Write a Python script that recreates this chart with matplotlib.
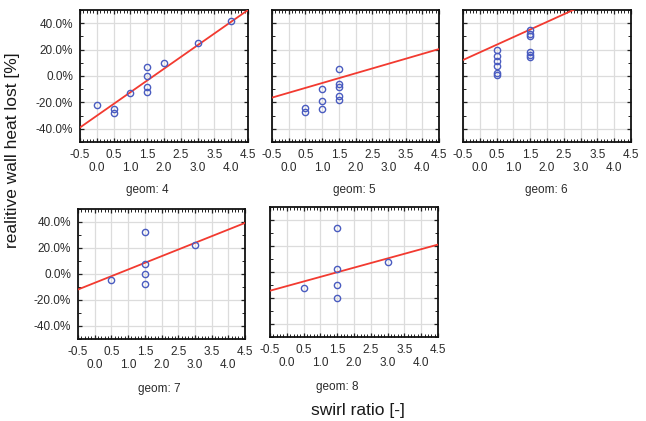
import numpy as np
import matplotlib
matplotlib.use("Agg")
import matplotlib.pyplot as plt
from matplotlib.ticker import MultipleLocator, FixedLocator, FuncFormatter

plt.rcParams["font.family"] = ["Liberation Sans", "DejaVu Sans"]

# data (swirl ratio vs relative wall heat lost, %)
geoms = [4, 5, 6, 7, 8]
x_g4 = [0.0, 0.5, 0.5, 1.0, 1.5, 1.5, 1.5, 1.5, 2.0, 3.0, 4.0]
y_g4 = [-22, -25, -28, -13, 7, 0, -8, -12, 10, 25, 42]
x_g5 = [0.5, 0.5, 1.0, 1.0, 1.0, 1.5, 1.5, 1.5, 1.5, 1.5]
y_g5 = [-24.5, -27, -10, -19, -25, 5, -6, -8.5, -15, -18]
x_g6 = [0.5, 0.5, 0.5, 0.5, 0.5, 0.5, 1.5, 1.5, 1.5, 1.5, 1.5, 1.5]
y_g6 = [19.5, 15, 11, 7.5, 2, 1, 34.5, 32, 30.5, 18, 16, 14.5]
x_g7 = [0.5, 1.5, 1.5, 1.5, 1.5, 3.0]
y_g7 = [-4.5, 32.5, 8, 0, -8, 22.5]
x_g8 = [0.5, 1.5, 1.5, 1.5, 1.5, 3.0]
y_g8 = [-12, 34, 2, -10, -20, 7.5]
xs = [x_g4, x_g5, x_g6, x_g7, x_g8]
ys = [y_g4, y_g5, y_g6, y_g7, y_g8]
# fitted lines (intercept at swirl 0, slope per unit swirl)
fit_b = [-30.1, -12.7, 17.9, -6.8, -10.85]
fit_m = [17.8, 7.36, 11.55, 10.24, 7.1]

y_ticks = [-40, -20, 0, 20, 40]
x_ticks = np.arange(-0.5, 4.51, 0.5)

W, H = 646, 421
# panel boxes in pixels: left, right, top, bottom
boxes = [(80, 248, 10, 142), (272, 439, 10, 142), (463, 631, 10, 142),
         (78, 245, 209, 339), (270, 438, 207, 337)]
glabel_pos = [(147, 190), (354, 190), (546, 190), (159, 389), (337, 387)]

fig = plt.figure(figsize=(W/100, H/100), dpi=100)

def xfmt(v, pos):
    s = f"{v:.1f}"
    if abs(v*2 - round(v*2)) < 1e-6 and round(v*2) % 2 == 0:
        return "\n" + s
    return s

for i, g in enumerate(geoms):
    l, r, t, b = boxes[i]
    ax = fig.add_axes([l/W, 1 - b/H, (r-l)/W, (b-t)/H])
    ax.set_xlim(-0.5, 4.5)
    ax.set_ylim(-50, 50)
    ax.set_axisbelow(True)
    ax.grid(True, color="#dcdcdc", lw=0.9)
    xx = np.array([-0.5, 4.5])
    ax.plot(xx, fit_b[i] + fit_m[i]*xx, color="#f23a30", lw=1.3, zorder=3)
    ax.plot(xs[i], ys[i], "o", mfc="none", mec="#4a5cc0", ms=4.5, mew=1.0,
            zorder=4, clip_on=True)
    ax.xaxis.set_major_locator(FixedLocator(x_ticks))
    ax.xaxis.set_major_formatter(FuncFormatter(xfmt))
    ax.xaxis.set_minor_locator(MultipleLocator(0.1))
    ax.yaxis.set_major_locator(FixedLocator(y_ticks))
    ax.yaxis.set_minor_locator(MultipleLocator(10))
    ax.tick_params(which="both", direction="in", top=True, right=True,
                   color="#222222")
    ax.tick_params(which="major", length=3, width=0.9)
    ax.tick_params(which="minor", length=2, width=0.7)
    ax.tick_params(axis="x", labelsize=8.5, labelcolor="#2a2a2a", pad=5)
    ax.tick_params(axis="y", labelsize=8.5, labelcolor="#2a2a2a", pad=5)
    for lab in ax.get_xticklabels():
        lab.set_linespacing(1.1)
    if l < 100:
        ax.yaxis.set_major_formatter(FuncFormatter(lambda v, p: f"{v:.1f}%"))
    else:
        ax.set_yticklabels([])
    for sp in ax.spines.values():
        sp.set_linewidth(1.3)
        sp.set_color("#111111")
    gx, gy = glabel_pos[i]
    fig.text(gx/W, 1 - gy/H, f"geom: {g}", ha="center", va="center",
             fontsize=8.5, color="#2a2a2a")

fig.text(13/W, 1 - 150/H, "realitive wall heat lost [%]", rotation=90,
         ha="center", va="center", fontsize=12.5, color="#1a1a1a")
fig.text(358/W, 1 - 411/H, "swirl ratio [-]", ha="center", va="center",
         fontsize=12.5, color="#1a1a1a")

fig.savefig("out.png", dpi=100)
